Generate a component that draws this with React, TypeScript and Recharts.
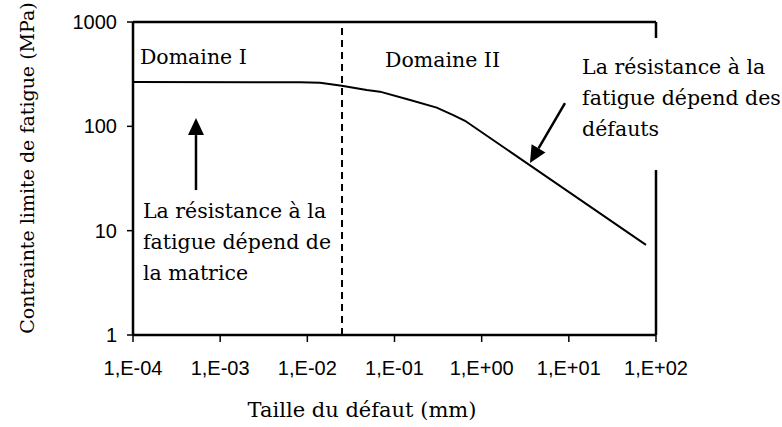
import { LineChart, Line, XAxis, YAxis, ReferenceLine, ReferenceDot } from "recharts";

// taille du défaut (mm) / contrainte limite (MPa)
const sizes = [1e-4, 0.00824, 0.014, 0.0248, 0.048, 0.068, 0.151, 0.305, 0.472, 0.644, 76.7];
const stress = [266, 264, 262, 245, 223, 215, 179, 151, 128, 113, 7.3];

const xTicks = [1e-4, 1e-3, 1e-2, 1e-1, 1, 10, 100];
const xTickLabels = ["1,E-04", "1,E-03", "1,E-02", "1,E-01", "1,E+00", "1,E+01", "1,E+02"];
const yTicks = [1, 10, 100, 1000];

const domainLimit = 0.025;

const serif = "DejaVu Serif";
const sans = "Liberation Sans";

const data = sizes.map((x, i) => ({ x, y: stress[i] }));

function arrow(props: any) {
  const { x1, y1, x2, y2 } = props;
  const a = Math.atan2(y2 - y1, x2 - x1);
  const len = 17;
  const half = 8;
  const bx = x2 - len * Math.cos(a);
  const by = y2 - len * Math.sin(a);
  const nx = -Math.sin(a) * half;
  const ny = Math.cos(a) * half;
  return (
    <g>
      <line x1={x1} y1={y1} x2={bx} y2={by} stroke="#000" strokeWidth={2.5} />
      <polygon points={`${x2},${y2} ${bx + nx},${by + ny} ${bx - nx},${by - ny}`} fill="#000" />
    </g>
  );
}

const note = (lines: string[]) => (p: any) => (
  <text x={p.cx} y={p.cy} fontFamily={serif} fontSize={20.5} fill="#000">
    {lines.map((l, i) => (
      <tspan key={i} x={p.cx} dy={i === 0 ? 0 : 31}>
        {l}
      </tspan>
    ))}
  </text>
);

export default function App() {
  return (
    <div style={{ position: "absolute", left: 0, top: 0, background: "#fff" }}>
      <LineChart width={782} height={427} data={data} margin={{ top: 22, right: 126, left: 0, bottom: 0 }}>
        <XAxis
          dataKey="x"
          type="number"
          scale="log"
          domain={[1e-4, 100]}
          allowDataOverflow
          ticks={xTicks}
          interval={0}
          tickFormatter={(v: number) => xTickLabels[Math.round(Math.log10(v)) + 4]}
          height={92}
          tickSize={7}
          tickMargin={19}
          axisLine={{ stroke: "#000", strokeWidth: 2.5 }}
          tickLine={{ stroke: "#000", strokeWidth: 1.5 }}
          tick={{ fontSize: 20, fill: "#000", fontFamily: sans }}
          label={{
            content: () => (
              <text x={362} y={417} textAnchor="middle" fontFamily={serif} fontSize={21} fill="#000">
                Taille du défaut (mm)
              </text>
            ),
          }}
        />
        <YAxis
          type="number"
          scale="log"
          domain={[1, 1000]}
          allowDataOverflow
          ticks={yTicks}
          interval={0}
          width={133}
          tickSize={6}
          tickMargin={10}
          axisLine={{ stroke: "#000", strokeWidth: 2.5 }}
          tickLine={{ stroke: "#000", strokeWidth: 1.5 }}
          tick={{ fontSize: 20, fill: "#000", fontFamily: sans }}
          label={{
            content: () => (
              <text
                x={27}
                y={168}
                transform="rotate(-90, 27, 168)"
                textAnchor="middle"
                dominantBaseline="central"
                fontFamily={serif}
                fontSize={19}
                fill="#000"
              >
                Contrainte limite de fatigue (MPa)
              </text>
            ),
          }}
        />
        {/* cadre haut et droit (interrompu par le texte) */}
        <ReferenceLine y={1000} stroke="#000" strokeWidth={2.5} />
        <ReferenceLine segment={[{ x: 100, y: 1000 }, { x: 100, y: 703 }]} stroke="#000" strokeWidth={2.5} />
        <ReferenceLine segment={[{ x: 100, y: 38.1 }, { x: 100, y: 1 }]} stroke="#000" strokeWidth={2.5} />
        <ReferenceLine x={domainLimit} stroke="#000" strokeWidth={2} strokeDasharray="7 5" />
        <Line
          dataKey="y"
          type="linear"
          stroke="#000"
          strokeWidth={2}
          dot={false}
          activeDot={false}
          isAnimationActive={false}
        />
        <ReferenceLine segment={[{ x: 5.28e-4, y: 24.5 }, { x: 5.28e-4, y: 120 }]} shape={arrow} />
        <ReferenceLine segment={[{ x: 9.03, y: 167 }, { x: 3.58, y: 44.5 }]} shape={arrow} />
        <ReferenceDot x={1.2e-4} y={400} shape={note(["Domaine I"])} />
        <ReferenceDot x={0.0778} y={374} shape={note(["Domaine II"])} />
        <ReferenceDot x={1.3e-4} y={13.2} shape={note(["La résistance à la", "fatigue dépend de", "la matrice"])} />
        <ReferenceDot x={14.2} y={318} shape={note(["La résistance à la", "fatigue dépend des", "défauts"])} />
      </LineChart>
    </div>
  );
}
